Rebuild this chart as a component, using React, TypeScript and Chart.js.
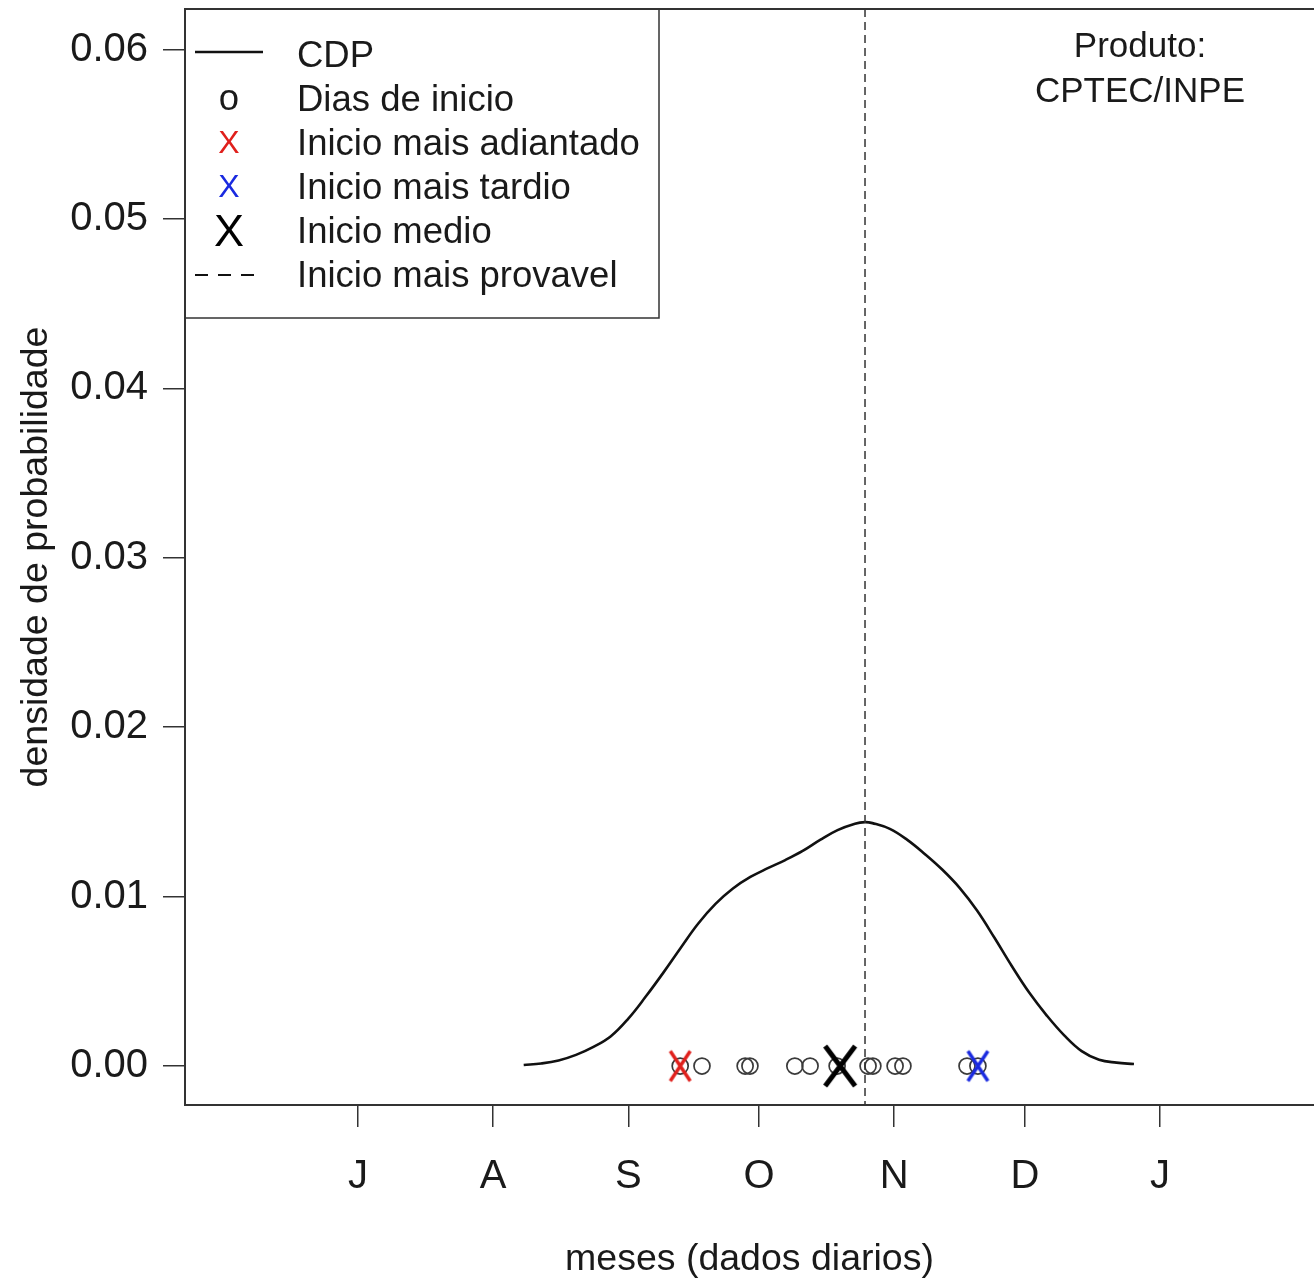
import React, { useEffect, useRef } from "react";
import { Chart, registerables } from "chart.js";

Chart.register(...registerables);

// ---- data ----
const monthTickDays = [0, 31, 62, 92, 123, 153, 184]; // days since 1 July
const monthLabels = ["J", "A", "S", "O", "N", "D", "J"];
const yTickValues = [0, 0.01, 0.02, 0.03, 0.04, 0.05, 0.06];

const cdpDays = [38, 42, 46, 50, 54, 58, 62, 66, 70, 74, 78, 82, 86, 90, 94, 98, 102, 106, 110, 114, 116.3, 118, 122, 126, 130, 134, 138, 142, 146, 150, 154, 158, 162, 166, 170, 174, 178];
const cdpDensity = [0.00006, 0.00015, 0.00033, 0.00066, 0.00113, 0.00176, 0.0028, 0.0041, 0.0055, 0.00697, 0.0084, 0.00957, 0.01048, 0.01116, 0.01168, 0.01216, 0.0127, 0.01335, 0.01393, 0.01431, 0.0144, 0.01434, 0.014, 0.01335, 0.01252, 0.0116, 0.01052, 0.00918, 0.00757, 0.00589, 0.00432, 0.00298, 0.00181, 0.00088, 0.00037, 0.0002, 0.00012];

const startDays = [73.9, 78.9, 88.8, 89.9, 100.2, 103.7, 109.9, 117.0, 118.1, 123.2, 125.0, 139.7, 142.2];
const inicioAdiantado = 73.9;
const inicioTardio = 142.2;
const inicioMedio = 110.6;
const inicioProvavel = 116.3;

const legendLabels = ["CDP", "Dias de inicio", "Inicio mais adiantado", "Inicio mais tardio", "Inicio medio", "Inicio mais provavel"];
const produtoLines = ["Produto:", "CPTEC/INPE"];
const xTitle = "meses (dados diarios)";
const yTitle = "densidade de probabilidade";

// ---- style ----
const FONT = '"Liberation Sans", Arial, Helvetica, sans-serif';
const TEXT = "#1a1a1a";
const AXIS = "#333333";
const TICK_FS = 40;
const LEG_FS = 36.5;
const TITLE_FS = 37.5;
const PROD_FS = 35;

function makeX(w: number, h: number, lw: number, color: string) {
  const c = document.createElement("canvas");
  c.width = Math.ceil(w + lw * 2);
  c.height = Math.ceil(h + lw * 2);
  const g = c.getContext("2d")!;
  g.strokeStyle = color;
  g.lineWidth = lw;
  g.beginPath();
  g.moveTo(lw, lw);
  g.lineTo(lw + w, lw + h);
  g.moveTo(lw + w, lw);
  g.lineTo(lw, lw + h);
  g.stroke();
  return c;
}

const decorPlugin = {
  id: "decor",
  afterDatasetsDraw(chart: any) {
    const ctx = chart.ctx;
    const { top, bottom } = chart.chartArea;
    const x = chart.scales.x.getPixelForValue(inicioProvavel);
    ctx.save();
    ctx.strokeStyle = AXIS;
    ctx.lineWidth = 1.5;
    ctx.setLineDash([8, 5]);
    ctx.beginPath();
    ctx.moveTo(x, top);
    ctx.lineTo(x, bottom);
    ctx.stroke();
    ctx.restore();
  },
  afterDraw(chart: any) {
    const ctx = chart.ctx;
    const { left, top, right } = chart.chartArea;
    ctx.save();
    // top border of the box
    ctx.strokeStyle = AXIS;
    ctx.lineWidth = 2;
    ctx.beginPath();
    ctx.moveTo(left, top);
    ctx.lineTo(right, top);
    ctx.stroke();

    // legend box
    ctx.lineWidth = 1.5;
    ctx.strokeRect(left, top, 474, 309);
    const symX = left + 44;
    const textX = left + 112;
    const row0 = top + 45; // cap-centre of first row
    const rowH = 44;
    const capOff = (fs: number) => fs * 0.358;
    ctx.textBaseline = "alphabetic";
    ctx.font = `${LEG_FS}px ${FONT}`;
    ctx.fillStyle = TEXT;
    ctx.textAlign = "left";
    legendLabels.forEach((t, i) => ctx.fillText(t, textX, row0 + i * rowH + capOff(LEG_FS)));

    // symbols
    ctx.strokeStyle = "#111";
    ctx.lineWidth = 2.5;
    ctx.beginPath();
    ctx.moveTo(symX - 34, row0 - 2);
    ctx.lineTo(symX + 34, row0 - 2);
    ctx.stroke();
    ctx.textAlign = "center";
    ctx.font = `${LEG_FS}px ${FONT}`;
    ctx.fillStyle = TEXT;
    ctx.fillText("o", symX, row0 + rowH + capOff(LEG_FS) - 1);
    ctx.font = `32px ${FONT}`;
    ctx.fillStyle = "#e0201c";
    ctx.fillText("X", symX, row0 + 2 * rowH + capOff(32));
    ctx.fillStyle = "#1a2ae0";
    ctx.fillText("X", symX, row0 + 3 * rowH + capOff(32));
    ctx.font = `45px ${FONT}`;
    ctx.fillStyle = "#000";
    ctx.fillText("X", symX, row0 + 4 * rowH + capOff(45));
    ctx.strokeStyle = "#111";
    ctx.lineWidth = 1.8;
    ctx.setLineDash([13, 10]);
    ctx.beginPath();
    ctx.moveTo(symX - 34, row0 + 5 * rowH + 1);
    ctx.lineTo(symX + 34, row0 + 5 * rowH + 1);
    ctx.stroke();
    ctx.setLineDash([]);

    // product text
    ctx.font = `${PROD_FS}px ${FONT}`;
    ctx.fillStyle = TEXT;
    ctx.textAlign = "center";
    const px = right - 174;
    produtoLines.forEach((t, i) => ctx.fillText(t, px, top + 48 + i * 44.5));
    ctx.restore();
  },
};

export default function App() {
  const ref = useRef<HTMLCanvasElement | null>(null);
  useEffect(() => {
    document.body.style.margin = "0";
    const canvas = ref.current!;
    const redX = makeX(20, 30, 3.5, "#e0201c");
    const blueX = makeX(20, 30, 3.5, "#1a2ae0");
    const blackX = makeX(30, 40, 5, "#000");
    const chart = new Chart(canvas, {
      type: "scatter",
      data: {
        datasets: [
          {
            label: legendLabels[0],
            data: cdpDays.map((d, i) => ({ x: d, y: cdpDensity[i] })),
            showLine: true,
            borderColor: "#111",
            borderWidth: 2.6,
            pointRadius: 0,
            tension: 0.4,
            order: 3,
          } as any,
          {
            label: legendLabels[1],
            data: startDays.map((d) => ({ x: d, y: 0 })),
            pointStyle: "circle",
            pointRadius: 8,
            borderColor: "#3a3a3a",
            borderWidth: 1.7,
            backgroundColor: "rgba(0,0,0,0)",
            order: 2,
          },
          {
            label: legendLabels[2],
            data: [{ x: inicioAdiantado, y: 0 }],
            pointStyle: redX as any,
            pointRadius: 10,
            order: 1,
          },
          {
            label: legendLabels[3],
            data: [{ x: inicioTardio, y: 0 }],
            pointStyle: blueX as any,
            pointRadius: 10,
            order: 1,
          },
          {
            label: legendLabels[4],
            data: [{ x: inicioMedio, y: 0 }],
            pointStyle: blackX as any,
            pointRadius: 10,
            order: 0,
          },
        ],
      },
      options: {
        animation: false,
        responsive: false,
        devicePixelRatio: 1,
        layout: { autoPadding: false, padding: { top: 9, left: 0, right: 0, bottom: 0 } },
        plugins: { legend: { display: false }, tooltip: { enabled: false }, title: { display: false } },
        events: [],
        scales: {
          x: {
            type: "linear",
            min: -39.7,
            max: 219.3,
            bounds: "data",
            afterBuildTicks: (s: any) => {
              s.ticks = monthTickDays.map((v) => ({ value: v }));
            },
            afterFit: (s: any) => {
              s.height = 177;
              s.paddingLeft = 0;
              s.paddingRight = 0;
            },
            grid: { drawOnChartArea: false, drawTicks: true, tickLength: 22, color: AXIS, lineWidth: 1.5 },
            border: { display: true, color: AXIS, width: 2 },
            ticks: {
              padding: 26,
              color: TEXT,
              autoSkip: false,
              maxRotation: 0,
              font: { family: FONT, size: TICK_FS },
              callback: (_v: any, i: number) => monthLabels[i],
            },
            title: {
              display: true,
              text: xTitle,
              color: TEXT,
              font: { family: FONT, size: TITLE_FS },
              padding: { top: 0, bottom: 0 },
            },
          },
          y: {
            type: "linear",
            min: -0.0023,
            max: 0.0624,
            bounds: "data",
            afterBuildTicks: (s: any) => {
              s.ticks = yTickValues.map((v) => ({ value: v }));
            },
            afterFit: (s: any) => {
              s.width = 185;
              s.paddingTop = 0;
              s.paddingBottom = 0;
            },
            grid: { drawOnChartArea: false, drawTicks: true, tickLength: 22, color: AXIS, lineWidth: 1.5 },
            border: { display: true, color: AXIS, width: 2 },
            ticks: {
              padding: 15,
              color: TEXT,
              autoSkip: false,
              font: { family: FONT, size: TICK_FS },
              callback: (v: any) => Number(v).toFixed(2),
            },
            title: {
              display: true,
              text: yTitle,
              color: TEXT,
              font: { family: FONT, size: TITLE_FS },
              padding: { top: 14, bottom: 0 },
            },
          },
        },
      } as any,
      plugins: [decorPlugin],
    });
    return () => chart.destroy();
  }, []);
  return <canvas ref={ref} width={1314} height={1282} style={{ display: "block" }} />;
}
